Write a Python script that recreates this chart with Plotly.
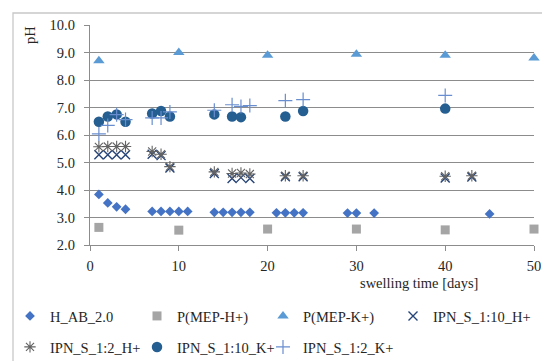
import plotly.graph_objects as go

# ---------------- data ----------------
h_ab_x = [1, 2, 3, 4, 7, 8, 9, 10, 11, 14, 15, 16, 17, 18, 21, 22, 23, 24, 29, 30, 32, 45]
h_ab_y = [3.84, 3.53, 3.39, 3.30, 3.22, 3.22, 3.22, 3.22, 3.22, 3.19, 3.19, 3.19, 3.19, 3.19,
          3.17, 3.17, 3.17, 3.17, 3.16, 3.16, 3.16, 3.13]

mep_h_x = [1, 10, 20, 30, 40, 50]
mep_h_y = [2.64, 2.54, 2.58, 2.58, 2.55, 2.58]

mep_k_x = [1, 10, 20, 30, 40, 50]
mep_k_y = [8.70, 9.00, 8.90, 8.94, 8.90, 8.80]

ipn110h_x = [1, 2, 3, 4, 7, 8, 9, 14, 16, 17, 18, 22, 24, 40, 43]
ipn110h_y = [5.28, 5.28, 5.28, 5.28, 5.30, 5.25, 4.80, 4.60, 4.42, 4.45, 4.42, 4.48, 4.48, 4.44, 4.47]

ipn12h_x = [1, 2, 3, 4, 7, 8, 9, 14, 16, 17, 18, 22, 24, 40, 43]
ipn12h_y = [5.57, 5.58, 5.58, 5.58, 5.40, 5.30, 4.85, 4.66, 4.60, 4.62, 4.58, 4.52, 4.52, 4.50, 4.52]

ipn110k_x = [1, 2, 3, 4, 7, 8, 9, 14, 16, 17, 22, 24, 40]
ipn110k_y = [6.48, 6.67, 6.75, 6.48, 6.78, 6.87, 6.67, 6.75, 6.67, 6.65, 6.67, 6.87, 6.96]

ipn12k_x = [1, 2, 3, 4, 7, 8, 9, 14, 16, 17, 18, 22, 24, 40]
ipn12k_y = [6.04, 6.35, 6.74, 6.56, 6.62, 6.62, 6.84, 6.90, 7.10, 7.04, 7.07, 7.25, 7.29, 7.44]

names = ["H_AB_2.0", "P(MEP-H+)", "P(MEP-K+)", "IPN_S_1:10_H+",
         "IPN_S_1:2_H+", "IPN_S_1:10_K+", "IPN_S_1:2_K+"]

y_ticks = [2, 3, 4, 5, 6, 7, 8, 9, 10]
x_ticks = [0, 10, 20, 30, 40, 50]

# ---------------- styling ----------------
FONT = "Liberation Serif"
TXT = "#262626"
GRID = "#8c8c8c"
FS = 14.5

fig = go.Figure()

series = [
    (h_ab_x, h_ab_y, dict(symbol="diamond", size=7.5, color="#4472C4"), "legend", 82),
    (mep_h_x, mep_h_y, dict(symbol="square", size=9, color="#A5A5A5"), "legend", 81),
    (mep_k_x, mep_k_y, dict(symbol="triangle-up", size=10, color="#5B9BD5"), "legend", 85),
    (ipn110h_x, ipn110h_y, dict(symbol="x-thin-open", size=9, color="#264478",
                                line=dict(width=1.4, color="#264478")), "legend", 100),
    (ipn12h_x, ipn12h_y, dict(symbol="asterisk-open", size=9.5, color="#636363",
                              line=dict(width=1.1, color="#636363")), "legend2", 82),
    (ipn110k_x, ipn110k_y, dict(symbol="circle", size=10.5, color="#255E91"), "legend2", 81),
    (ipn12k_x, ipn12k_y, dict(symbol="cross-thin-open", size=10, color="#698ED0",
                              line=dict(width=1.2, color="#698ED0")), "legend2", 100),
]

for (xs, ys, mk, lg, lw), nm in zip(series, names):
    fig.add_trace(go.Scatter(
        x=xs, y=ys, mode="markers", name=nm, marker=mk,
        legend=lg, legendwidth=lw, cliponaxis=False,
    ))

LX = 2  # legend left edge in px

fig.update_layout(
    width=550, height=361,
    margin=dict(l=82, r=24, t=17, b=124, autoexpand=False),
    paper_bgcolor="white", plot_bgcolor="white",
    font=dict(family=FONT, size=FS, color=TXT),
    xaxis=dict(
        range=[0, 50], tickvals=x_ticks, showgrid=False, zeroline=False,
        showline=True, linecolor=GRID, linewidth=1.3,
        ticks="outside", ticklen=5, tickcolor=GRID, tickwidth=1.3,
        ticklabelstandoff=2, tickfont=dict(family=FONT, size=FS, color=TXT),
    ),
    yaxis=dict(
        range=[2, 10], tickvals=y_ticks, tickformat=".1f",
        showgrid=True, gridcolor=GRID, gridwidth=1.3, zeroline=False,
        showline=True, linecolor=GRID, linewidth=1.3,
        ticks="outside", ticklen=5, tickcolor=GRID, tickwidth=1.3,
        ticklabelstandoff=6, tickfont=dict(family=FONT, size=FS, color=TXT),
    ),
    legend=dict(
        orientation="h", xref="paper", yref="paper",
        x=(LX - 82) / 444, y=(237 - 308) / 220, xanchor="left", yanchor="middle",
        itemwidth=30, bgcolor="rgba(0,0,0,0)", borderwidth=0,
        font=dict(family=FONT, size=FS, color=TXT),
    ),
    legend2=dict(
        orientation="h", xref="paper", yref="paper",
        x=(LX - 82) / 444, y=(237 - 339) / 220, xanchor="left", yanchor="middle",
        itemwidth=30, bgcolor="rgba(0,0,0,0)", borderwidth=0,
        font=dict(family=FONT, size=FS, color=TXT),
    ),
    annotations=[
        dict(text="pH", xref="paper", yref="paper", x=(22 - 82) / 444, y=(237 - 27) / 220,
             textangle=-90, showarrow=False, xanchor="center", yanchor="middle",
             font=dict(family=FONT, size=FS, color=TXT)),
        dict(text="swelling time [days]", xref="paper", yref="paper",
             x=(411 - 82) / 444, y=-(275 - 237) / 220, showarrow=False,
             xanchor="center", yanchor="middle",
             font=dict(family=FONT, size=FS, color=TXT)),
    ],
    shapes=[
        dict(type="rect", xref="paper", yref="paper",
             x0=(5 - 82) / 444, x1=(545 - 82) / 444,
             y0=(237 - 355) / 220, y1=(237 - 5) / 220,
             line=dict(color="#c8c8c8", width=1.3), fillcolor="rgba(0,0,0,0)", layer="below"),
    ],
)

fig.write_html("out.html")
